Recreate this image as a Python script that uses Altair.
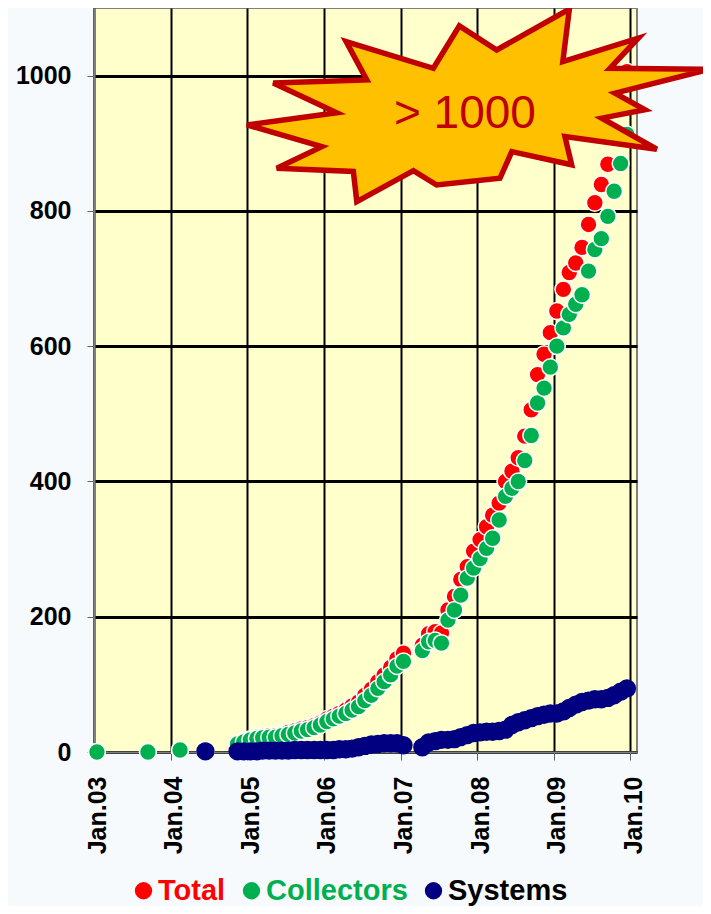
import altair as alt
import pandas as pd

SERIES = ["Total", "Collectors", "Systems"]
COLORS = ["#FF0000", "#00B050", "#000080"]
YEARS = [2003, 2004, 2005, 2006, 2007, 2008, 2009, 2010]
Y_TICKS = [0, 200, 400, 600, 800, 1000]

months = [
    "2003-01", "2003-09", "2004-02", "2004-06", "2004-11", "2004-12",
    "2005-01", "2005-02", "2005-03", "2005-04", "2005-05", "2005-06",
    "2005-07", "2005-08", "2005-09", "2005-10", "2005-11", "2005-12",
    "2006-01", "2006-02", "2006-03", "2006-04", "2006-05", "2006-06",
    "2006-07", "2006-08", "2006-09", "2006-10", "2006-11", "2006-12",
    "2007-01", "2007-04", "2007-05", "2007-06", "2007-07", "2007-08",
    "2007-09", "2007-10", "2007-11", "2007-12",
    "2008-01", "2008-02", "2008-03", "2008-04", "2008-05", "2008-06",
    "2008-07", "2008-08", "2008-09", "2008-10", "2008-11", "2008-12",
    "2009-01", "2009-02", "2009-03", "2009-04", "2009-05", "2009-06",
    "2009-07", "2009-08", "2009-09", "2009-10", "2009-11", "2009-12",
]

total = [
    0, 0, 3, 3, 13, 16,
    19, 22, 23, 24, 24, 26, 29, 31, 34, 36, 39, 43,
    49, 53, 57, 62, 68, 74, 84, 93, 104, 114, 125, 138,
    146, 158, 175, 178, 176, 210, 230, 255, 274, 297,
    314, 333, 350, 368, 400, 415, 435, 467, 506, 558, 588, 620,
    652, 684, 709, 723, 746, 780, 812, 839, 869, 914, 958, 1006,
]

collectors = [
    0, 0, 3, 1, 12, 15,
    18, 20, 21, 22, 22, 24, 26, 28, 31, 33, 36, 40,
    45, 49, 53, 57, 62, 67, 76, 84, 94, 104, 114, 127,
    134, 150, 163, 165, 161, 195, 210, 232, 257, 272,
    286, 301, 316, 343, 378, 390, 400, 431, 468, 516, 538, 569,
    600, 627, 647, 662, 676, 711, 743, 759, 792, 829, 870, 913,
]

systems_months = [
    "2004-06", "2004-11", "2004-12",
    "2005-01", "2005-02", "2005-03", "2005-04", "2005-05", "2005-06",
    "2005-07", "2005-08", "2005-09", "2005-10", "2005-11", "2005-12",
    "2006-01", "2006-02", "2006-03", "2006-04", "2006-05", "2006-06",
    "2006-07", "2006-08", "2006-09", "2006-10", "2006-11", "2006-12",
    "2007-01", "2007-04", "2007-05", "2007-06", "2007-07", "2007-08",
    "2007-09", "2007-10", "2007-11", "2007-12",
    "2008-01", "2008-02", "2008-03", "2008-04", "2008-05", "2008-06",
    "2008-07", "2008-08", "2008-09", "2008-10", "2008-11", "2008-12",
    "2009-01", "2009-02", "2009-03", "2009-04", "2009-05", "2009-06",
    "2009-07", "2009-08", "2009-09", "2009-10", "2009-11", "2009-12",
]

systems = [
    1, 1, 1,
    1, 1, 2, 2, 2, 2, 2, 3, 3, 3, 3, 3,
    3, 3, 4, 4, 5, 7, 9, 11, 12, 13, 13, 13,
    10, 7, 14, 16, 18, 18, 19, 22, 25, 28,
    29, 30, 30, 31, 33, 40, 44, 47, 50, 53, 55, 57,
    57, 60, 65, 70, 74, 76, 78, 78, 80, 84, 89, 94,
]

# annotation
callout_text = "> 1000"
callout_star_date = "2008-01-07T00:00:00"
callout_star_value = 956
callout_text_date = "2007-11-04T00:00:00"
callout_text_value = 922

STAR_PTS = [
    (-0.998, 0.084), (-0.611, 0.032), (-0.884, -0.097), (-0.481, -0.110),
    (-0.570, -0.275), (-0.194, -0.160), (-0.082, -0.343), (0.079, -0.239),
    (0.392, -0.415), (0.364, -0.189), (0.689, -0.290), (0.567, -0.160),
    (0.998, -0.156), (0.589, -0.053), (0.718, 0.019), (0.532, 0.055),
    (0.769, 0.189), (0.373, 0.134), (0.402, 0.256), (0.144, 0.199),
    (0.093, 0.314), (-0.180, 0.343), (-0.280, 0.281), (-0.524, 0.415),
    (-0.539, 0.285), (-0.869, 0.271), (-0.675, 0.178),
]
STAR_PATH = "M " + " L ".join(f"{x} {y}" for x, y in STAR_PTS) + " Z"

rows = []
for m, v in zip(months, total):
    rows.append({"date": m + "-15T00:00:00", "value": v, "series": "Total"})
for m, v in zip(months, collectors):
    rows.append({"date": m + "-15T00:00:00", "value": v, "series": "Collectors"})
for m, v in zip(systems_months, systems):
    rows.append({"date": m + "-15T00:00:00", "value": v, "series": "Systems"})
df = pd.DataFrame(rows)

FONT = "Liberation Sans"

x_enc = alt.X(
    "date:T",
    scale=alt.Scale(domain=[alt.DateTime(year=2003, month=1, date=1),
                            alt.DateTime(year=2010, month=2, date=1)]),
    axis=alt.Axis(
        values=[alt.DateTime(year=y, month=1, date=1) for y in YEARS],
        format="%b.%y", labelAngle=270, title=None,
        labelFont=FONT, labelFontWeight="bold", labelFontSize=25,
        labelColor="#000000", labelPadding=16, labelOffset=3,
        tickSize=8, tickColor="#606060", tickWidth=1,
        domainColor="#808080", domainWidth=2,
        grid=True, gridColor="#000000", gridWidth=2, gridOpacity=1,
    ),
)
y_enc = alt.Y(
    "value:Q",
    scale=alt.Scale(domain=[0, 1100], nice=False),
    axis=alt.Axis(
        values=Y_TICKS, title=None, format="d",
        labelFont=FONT, labelFontWeight="bold", labelFontSize=25,
        labelColor="#000000", labelPadding=16,
        tickSize=7, tickColor="#606060", tickWidth=1,
        domainColor="#808080", domainWidth=2,
        grid=True, gridColor="#000000", gridWidth=3, gridOpacity=1,
    ),
)

points = alt.Chart(df).mark_point(
    filled=True, size=285, strokeWidth=1.5, opacity=1
).encode(
    x=x_enc,
    y=y_enc,
    color=alt.Color(
        "series:N",
        scale=alt.Scale(domain=SERIES, range=COLORS),
        sort=SERIES,
        legend=alt.Legend(
            title=None, orient="none", direction="horizontal",
            legendX=35, legendY=868, padding=0,
            symbolType="circle", symbolSize=300, symbolStrokeWidth=0,
            labelFont=FONT, labelFontWeight="bold", labelFontSize=29,
            labelOffset=0, columnPadding=11, labelLimit=400,
            labelColor={"expr": "datum.label == 'Total' ? '#FF0000' : (datum.label == 'Collectors' ? '#00B050' : '#000000')"},
        ),
    ),
    stroke=alt.condition(alt.datum.series == "Systems", alt.value("#000080"), alt.value("#FFFFFF")),
)

star_df = pd.DataFrame({"date": [callout_star_date], "value": [callout_star_value]})
star = alt.Chart(star_df).mark_point(
    shape=STAR_PATH, size=215296, filled=True, fill="#FFC000",
    stroke="#C00000", strokeWidth=5.5, opacity=1, strokeJoin="miter",
).encode(x="date:T", y="value:Q")

text_df = pd.DataFrame({"date": [callout_text_date], "value": [callout_text_value], "label": [callout_text]})
label = alt.Chart(text_df).mark_text(
    font=FONT, fontSize=46, color="#C00000", align="center", baseline="alphabetic"
).encode(x="date:T", y="value:Q", text="label:N")

chart = alt.layer(points, star, label).properties(
    width=543, height=744,
    autosize=alt.AutoSizeParams(type="none"),
    padding={"left": 86, "top": 0, "right": 66, "bottom": 154},
    background="#F7FAFC",
).configure_view(
    fill="#FFFFCC", stroke="#808080", strokeWidth=2
)

chart.save("out.html", embed_options={"renderer": "svg", "actions": False})
